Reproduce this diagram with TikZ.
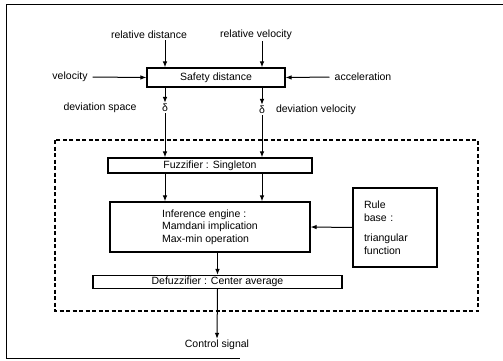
\documentclass[tikz,border=0pt]{standalone}
\usepackage{fontspec}
\setmainfont{Liberation Sans}
\usetikzlibrary{arrows.meta}
\begin{document}
\begin{tikzpicture}[x=1pt,y=-1pt,>={Latex[length=6pt,width=4.5pt]},
    every node/.style={font=\fontsize{10.5}{12.5}\selectfont,inner sep=1pt},
    block/.style={draw,line width=1.1pt},
    flow/.style={->,line width=1pt}]
\useasboundingbox (0,0) rectangle (503,361);

    % outer frame
    \draw[line width=1pt] (503,5) -- (6,5) -- (6,358) -- (240,358);

    % safety distance stage
    \node[block,minimum width=138pt,minimum height=19pt] (safety) at (216,77.5){Safety distance};
    \node (reldist) at (149,35){relative distance};
    \node (relvel) at (256,35){relative velocity};
    \node (vel) at (70,77){velocity};
    \node (acc) at (363,77){acceleration};
    \node (dlt1) at (165,108){δ};
    \node (dlt2) at (262,110){δ};
    \node (devsp) at (100,108){deviation space};
    \node (devvel) at (316,110){deviation velocity};

    % fuzzy controller
    \draw[line width=1.1pt,dash pattern=on 4pt off 2.5pt] (55,140) rectangle (478,311);
    \node[block,minimum width=204pt,minimum height=15pt] (fuzz) at (210,165.5){Fuzzifier : Singleton};
    \node[block,minimum width=200pt,minimum height=50pt,align=left] (inf) at (210,227)
        {Inference engine :\\Mamdani implication\\Max-min operation};
    \node[block,minimum width=84pt,minimum height=79pt,text width=62pt,align=left] (rule) at (395,227.5)
        {Rule\\base :\\[8pt]triangular\\function};
    \node[block,minimum width=249pt,minimum height=13pt] (defuz) at (217.5,282){Defuzzifier : Center average};
    \node (ctrl) at (217,345){Control signal};

    \draw[flow] (reldist.south -| dlt1) -- (dlt1 |- safety.north);
    \draw[flow] (relvel.south -| dlt2) -- (dlt2 |- safety.north);
    \draw[flow,shorten <=4pt] (vel.east) -- (safety.west);
    \draw[flow,shorten <=4pt] (acc.west) -- (safety.east);
    \draw[flow] (safety.south -| dlt1) -- (dlt1.north);
    \draw[flow] (safety.south -| dlt2) -- (dlt2.north);
    \draw[flow] (dlt1.south) -- (dlt1 |- fuzz.north);
    \draw[flow] (dlt2.south) -- (dlt2 |- fuzz.north);
    \draw[flow] (fuzz.south -| dlt1) -- (dlt1 |- inf.north);
    \draw[flow] (fuzz.south -| dlt2) -- (dlt2 |- inf.north);
    \draw[flow] (rule.west) -- (inf.east);
    \draw[flow] (inf.south -| defuz) -- (defuz.north);
    \draw[flow] (defuz.south) -- (ctrl.north);

\end{tikzpicture}
\end{document}
